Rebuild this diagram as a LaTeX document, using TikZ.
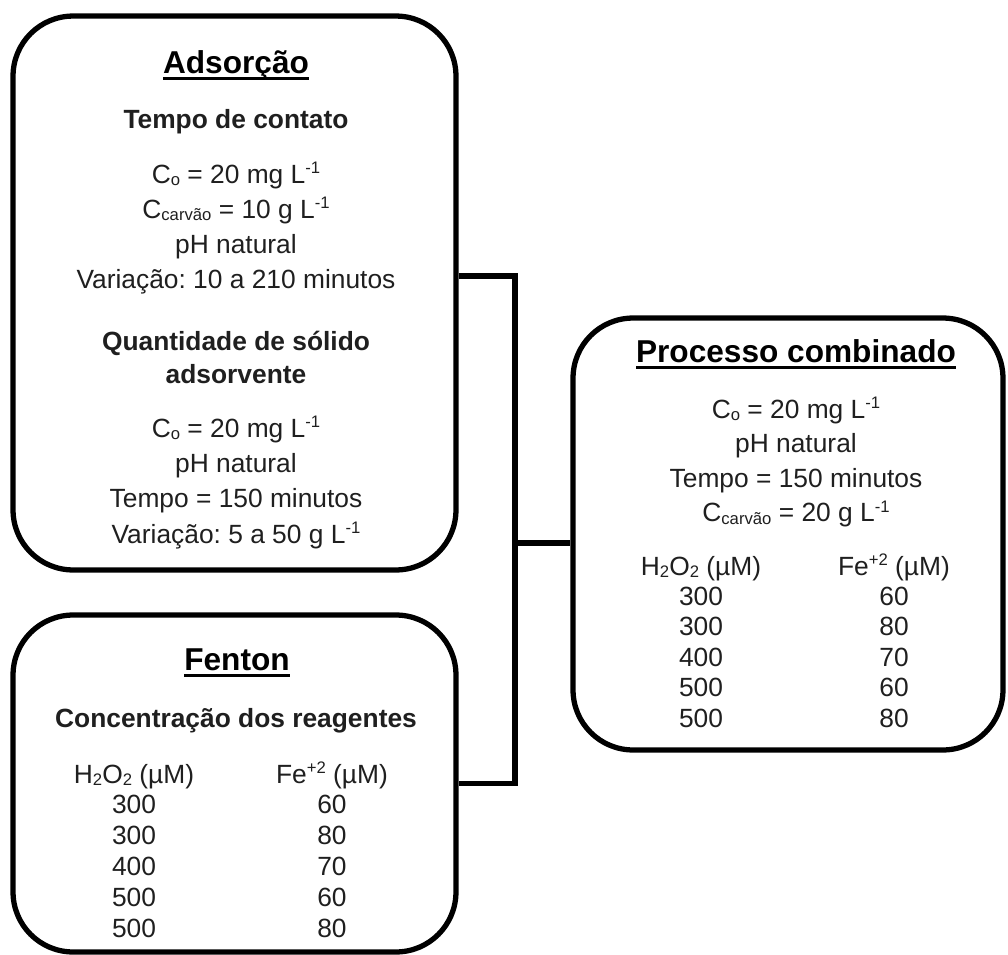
\documentclass[tikz,border=0pt]{standalone}
\usepackage{fontspec}
\setmainfont{Liberation Sans}
\usepackage{tikz}
\usetikzlibrary{positioning}

\frenchspacing
\newcommand{\sbs}[1]{\raisebox{-1.5pt}{\fontsize{9.5}{10}\selectfont #1}}
\newcommand{\sps}[1]{\raisebox{5.5pt}{\fontsize{9.5}{10}\selectfont #1}}
\newcommand{\Czero}{C\sbs{o}}
\newcommand{\Ccarv}{C\sbs{carvão}}
\newcommand{\perL}{L\sps{-1}}
\newcommand{\undl}[1]{\setbox0=\hbox{#1}\rlap{\rule[-4.2pt]{\wd0}{1.7pt}}\box0}

\begin{document}
\begin{tikzpicture}[x=0.02cm, y=-0.02cm,
  box/.style={draw, line width=3pt, rounded corners=1.2cm, inner sep=0pt},
  link/.style={line width=3pt},
  txt/.style={anchor=base, inner sep=0pt, text=black!88,
              font=\fontsize{15}{18}\selectfont},
  sbt/.style={txt, font=\fontsize{15}{18}\selectfont\bfseries},
  ttl/.style={txt, text=black, font=\fontsize{18}{21}\selectfont\bfseries},
]
  \useasboundingbox (0,0) rectangle (1008,954);

  % Boxes
  \node[box, minimum width=8.86cm, minimum height=11.08cm] (ads)  at (234.5,293) {};
  \node[box, minimum width=8.86cm, minimum height=6.74cm]  (fen)  at (234.5,783.5) {};
  \node[box, minimum width=8.6cm,  minimum height=8.64cm]  (proc) at (788,534) {};

  % Connectors
  \coordinate (jn) at (515,543);
  \draw[link] ([yshift=0.34cm]ads.east) -| (jn) |- (fen.east);
  \draw[link] (jn) -- (jn -| proc.west);

  % Adsorcao
  \node[ttl] (adsT) at (236,73) {\undl{Adsorção}};
  \node[sbt] (adsS1) at (236,128) {Tempo de contato};
  \foreach \t [count=\i from 0] in {{\Czero{} = 20 mg \perL}, {\Ccarv{} = 10 g \perL},
      {pH natural}, {Variação: 10 a 210 minutos}}
    \node[txt] (adsA\i) at (236,183+35.2*\i) {\t};
  \node[sbt] (adsS2) at (236,350) {Quantidade de sólido};
  \node[sbt] (adsS3) at (236,383) {adsorvente};
  \foreach \t [count=\i from 0] in {{\Czero{} = 20 mg \perL}, {pH natural},
      {Tempo = 150 minutos}, {Variação: 5 a 50 g \perL}}
    \node[txt] (adsB\i) at (236,437+35.4*\i) {\t};

  % Fenton
  \node[ttl] (fenT) at (237,670) {\undl{Fenton}};
  \node[sbt] (fenS) at (236,727) {Concentração dos reagentes};
  \node[txt] (fenH) at (134,783) {H\sbs{2}O\sbs{2} (µM)};
  \node[txt] (fenF) at (332,783) {Fe\sps{+2} (µM)};
  \foreach \h/\f [count=\i] in {300/60, 300/80, 400/70, 500/60, 500/80} {
    \node[txt] (fenH\i) at (134,783+30.8*\i) {\h};
    \node[txt] (fenF\i) at (332,783+30.8*\i) {\f};
  }

  % Processo combinado
  \node[ttl] (procT) at (796,362) {\undl{Processo combinado}};
  \foreach \t [count=\i from 0] in {{\Czero{} = 20 mg \perL}, {pH natural},
      {Tempo = 150 minutos}, {\Ccarv{} = 20 g \perL}}
    \node[txt] (procA\i) at (796,418+34.6*\i) {\t};
  \node[txt] (procH) at (701,575) {H\sbs{2}O\sbs{2} (µM)};
  \node[txt] (procF) at (894,575) {Fe\sps{+2} (µM)};
  \foreach \h/\f [count=\i] in {300/60, 300/80, 400/70, 500/60, 500/80} {
    \node[txt] (procH\i) at (701,575+30.4*\i) {\h};
    \node[txt] (procF\i) at (894,575+30.4*\i) {\f};
  }
\end{tikzpicture}
\end{document}
